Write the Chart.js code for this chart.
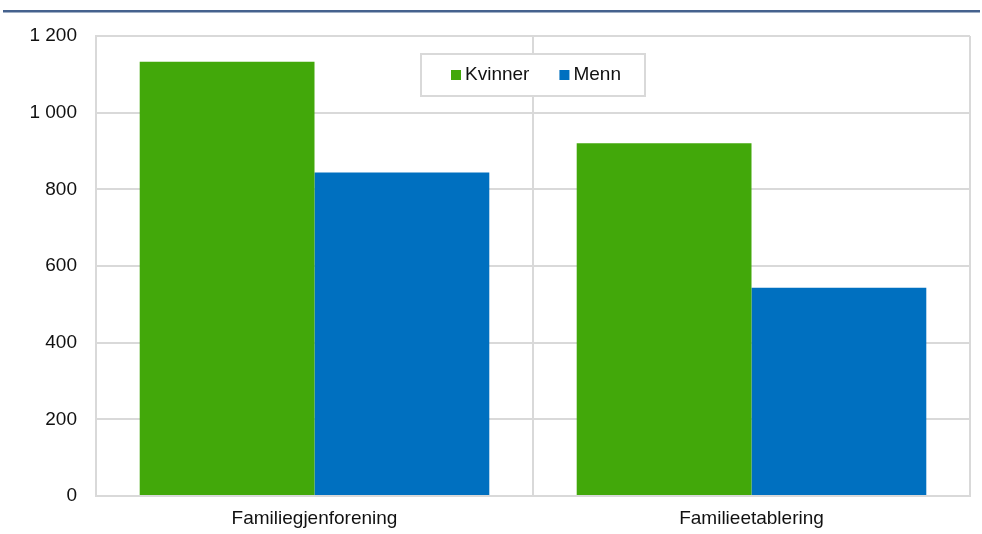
<!DOCTYPE html>
<html>
<head>
<meta charset="utf-8">
<script src="https://cdn.jsdelivr.net/npm/chart.js@4"></script>
<style>
  html, body { margin: 0; padding: 0; background: #fff; }
  #wrap { width: 982px; height: 534px; position: relative; }
</style>
</head>
<body>
<div id="wrap"><canvas id="myChart"></canvas></div>
<script>
const categories = ['Familiegjenforening', 'Familieetablering'];
const seriesNames = ['Kvinner', 'Menn'];
const kvinner = [1133, 920];
const menn = [844, 543];
const colors = ['#42a80a', '#0070c0'];

const gridColor = '#d9d9d9';
const fontFamily = '"Liberation Sans", Arial, sans-serif';

// thin rule across the top of the figure
const topRule = {
  id: 'topRule',
  beforeDraw(chart) {
    const ctx = chart.ctx;
    ctx.save();
    ctx.fillStyle = '#45628e';
    ctx.fillRect(3, 10, 977, 2.5);
    ctx.restore();
  }
};

// boxed legend sitting inside the plot area
const boxLegend = {
  id: 'boxLegend',
  afterDatasetsDraw(chart) {
    const ctx = chart.ctx;
    const area = chart.chartArea;
    const x = area.left + 325, y = area.top + 18, w = 224, h = 42;
    ctx.save();
    ctx.fillStyle = '#fff';
    ctx.fillRect(x, y, w, h);
    ctx.strokeStyle = gridColor;
    ctx.lineWidth = 2;
    ctx.strokeRect(x, y, w, h);
    ctx.font = '19px ' + fontFamily;
    ctx.textBaseline = 'middle';
    let cx = x + 30;
    chart.data.datasets.forEach((ds) => {
      ctx.fillStyle = ds.backgroundColor;
      ctx.fillRect(cx, y + 16, 10, 10);
      ctx.fillStyle = '#111';
      ctx.fillText(ds.label, cx + 14, y + 21);
      cx += 14 + ctx.measureText(ds.label).width + 30;
    });
    ctx.restore();
  }
};

const ctx = document.getElementById('myChart').getContext('2d');
const myChart = new Chart(ctx, {
  type: 'bar',
  data: {
    labels: categories,
    datasets: [
      { label: seriesNames[0], data: kvinner, backgroundColor: colors[0] },
      { label: seriesNames[1], data: menn, backgroundColor: colors[1] }
    ]
  },
  options: {
    responsive: true,
    maintainAspectRatio: false,
    animation: false,
    layout: { padding: { top: 36, right: 12, left: 0, bottom: 0 } },
    datasets: {
      bar: { categoryPercentage: 0.8, barPercentage: 1.0 }
    },
    plugins: {
      legend: { display: false },
      tooltip: { enabled: false }
    },
    scales: {
      x: {
        grid: { color: gridColor, lineWidth: 2, drawTicks: false, offset: true },
        border: { color: gridColor, width: 2 },
        ticks: { color: '#111', font: { family: fontFamily, size: 19 }, padding: 11 },
        afterFit(scale) { scale.height = 38; }
      },
      y: {
        min: 0,
        max: 1200,
        grid: { color: gridColor, lineWidth: 2, drawTicks: false },
        border: { color: gridColor, width: 2 },
        ticks: {
          stepSize: 200,
          padding: 19,
          color: '#111',
          font: { family: fontFamily, size: 19 },
          callback: (v) => String(v).replace(/\B(?=(\d{3})+(?!\d))/g, ' ')
        },
        afterFit(scale) { scale.width = 96; }
      }
    }
  },
  plugins: [topRule, boxLegend]
});
</script>
</body>
</html>
